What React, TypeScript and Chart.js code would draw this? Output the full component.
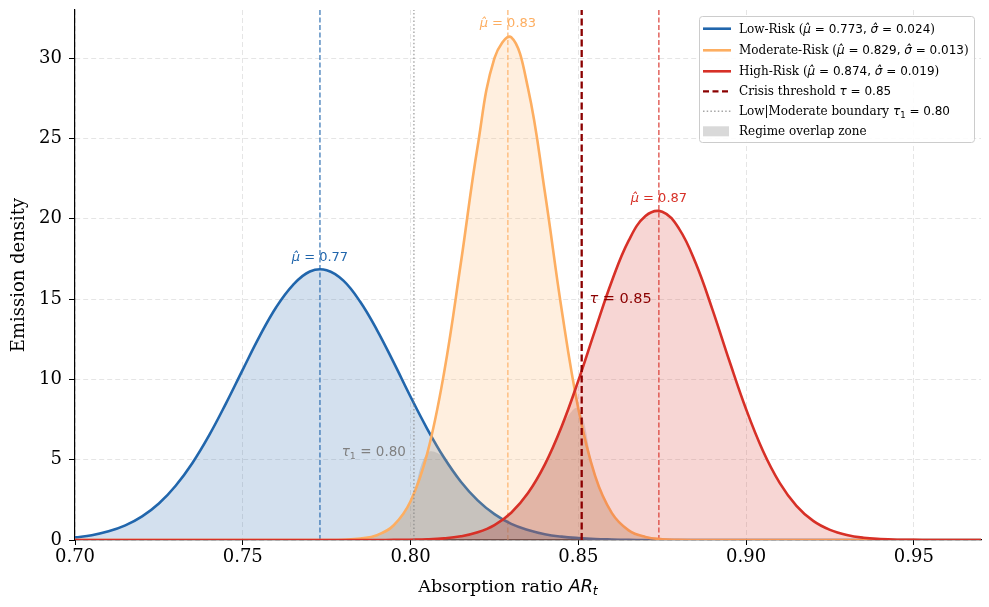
import React, { useEffect, useRef } from "react";
import { Chart, registerables } from "chart.js";

Chart.register(...registerables);

// ---- Data ----
const AR_GRID = [
  0.700, 0.705, 0.710, 0.715, 0.720, 0.725, 0.730, 0.735, 0.740, 0.745,
  0.750, 0.755, 0.760, 0.765, 0.770, 0.775, 0.780, 0.785, 0.790, 0.795,
  0.800, 0.805, 0.810, 0.815, 0.820, 0.825, 0.830, 0.835, 0.840, 0.845,
  0.850, 0.855, 0.860, 0.865, 0.870, 0.875, 0.880, 0.885, 0.890, 0.895,
  0.900, 0.905, 0.910, 0.915, 0.920, 0.925, 0.930, 0.935, 0.940, 0.945,
  0.950, 0.955, 0.960, 0.965, 0.970,
];

const LOW_RISK = [
  0.16, 0.30, 0.54, 0.91, 1.47, 2.27, 3.38, 4.80, 6.53, 8.51,
  10.61, 12.68, 14.51, 15.89, 16.72, 16.80, 16.15, 14.83, 13.07, 11.04,
  8.92, 6.91, 5.12, 3.63, 2.47, 1.61, 1.00, 0.62, 0.36, 0.21,
  0.12, 0.06, 0.03, 0.01, 0, 0, 0, 0, 0, 0,
  0, 0, 0, 0, 0, 0, 0, 0, 0, 0,
  0, 0, 0, 0, 0,
];

const MODERATE_RISK = [
  0, 0, 0, 0, 0, 0, 0, 0, 0, 0,
  0, 0, 0, 0, 0, 0, 0.02, 0.09, 0.30, 0.92,
  2.41, 5.41, 10.43, 17.26, 24.52, 30.00, 31.30, 28.13, 21.70, 14.38,
  8.17, 3.99, 1.67, 0.60, 0.19, 0.05, 0.01, 0, 0, 0,
  0, 0, 0, 0, 0, 0, 0, 0, 0, 0,
  0, 0, 0, 0, 0,
];

const HIGH_RISK = [
  0, 0, 0, 0, 0, 0, 0, 0, 0, 0,
  0, 0, 0, 0, 0, 0, 0, 0, 0, 0.01,
  0.02, 0.04, 0.10, 0.23, 0.48, 0.93, 1.70, 2.92, 4.69, 7.05,
  9.92, 13.07, 16.13, 18.64, 20.17, 20.44, 19.39, 17.23, 14.33, 11.16,
  8.14, 5.56, 3.56, 2.13, 1.19, 0.63, 0.31, 0.14, 0.06, 0.02,
  0.01, 0, 0, 0, 0,
];

const REGIME_NAMES = ["Low-Risk", "Moderate-Risk", "High-Risk"];
const REGIME_MU = [0.773, 0.829, 0.874];
const REGIME_MU_TEXT = ["0.773", "0.829", "0.874"];
const REGIME_SIGMA_TEXT = ["0.024", "0.013", "0.019"];
const REGIME_MU_SHORT = ["0.77", "0.83", "0.87"];
const CRISIS_THRESHOLD = 0.851;
const LOW_MOD_BOUNDARY = 0.801;
const X_TICKS = [0.7, 0.75, 0.8, 0.85, 0.9, 0.95];
const Y_TICKS = [0, 5, 10, 15, 20, 25, 30];

// ---- Styles ----
const BLUE = "#2166ac";
const ORANGE = "#fdae61";
const RED = "#d73027";
const DARKRED = "#8b0000";
const COLORS = [BLUE, ORANGE, RED];
const FILLS = ["rgba(33,102,172,0.2)", "rgba(253,174,97,0.2)", "rgba(215,48,39,0.2)"];
const MU_LINES = ["rgba(33,102,172,0.8)", "rgba(253,174,97,0.8)", "rgba(215,48,39,0.8)"];
const OVERLAP_FILL = "rgba(128,128,128,0.25)";
const SERIF = "'DejaVu Serif'";
const SANS = "'DejaVu Sans'";

type Seg = { t: string; f: string; dy?: number };

function drawSegs(
  ctx: CanvasRenderingContext2D,
  segs: Seg[],
  x: number,
  y: number,
  align: "left" | "center" | "right",
  color: string
) {
  ctx.save();
  ctx.fillStyle = color;
  ctx.textBaseline = "alphabetic";
  ctx.textAlign = "left";
  let total = 0;
  const widths = segs.map((s) => {
    ctx.font = s.f;
    const w = ctx.measureText(s.t).width;
    total += w;
    return w;
  });
  let cx = align === "left" ? x : align === "center" ? x - total / 2 : x - total;
  segs.forEach((s, i) => {
    ctx.font = s.f;
    ctx.fillText(s.t, cx, y + (s.dy || 0));
    cx += widths[i];
  });
  ctx.restore();
}

const pts = (ys: number[]) => AR_GRID.map((x, i) => ({ x, y: ys[i] }));

const underlayPlugin = {
  id: "underlay",
  beforeDatasetsDraw(chart: any) {
    const { ctx, chartArea, scales } = chart;
    REGIME_MU.forEach((mu, i) => {
      const px = scales.x.getPixelForValue(mu);
      ctx.save();
      ctx.strokeStyle = MU_LINES[i];
      ctx.lineWidth = 1.4;
      ctx.setLineDash([5, 2.5]);
      ctx.beginPath();
      ctx.moveTo(px, chartArea.bottom);
      ctx.lineTo(px, chartArea.top);
      ctx.stroke();
      ctx.restore();
    });
  },
};

const overlayPlugin = {
  id: "overlay",
  afterDatasetsDraw(chart: any) {
    const { ctx, chartArea, scales } = chart;
    const xs = scales.x;
    const ys = scales.y;
    let px = xs.getPixelForValue(LOW_MOD_BOUNDARY);
    ctx.save();
    ctx.strokeStyle = "rgba(128,128,128,0.7)";
    ctx.lineWidth = 1.4;
    ctx.setLineDash([1.5, 2.2]);
    ctx.beginPath();
    ctx.moveTo(px, chartArea.bottom);
    ctx.lineTo(px, chartArea.top);
    ctx.stroke();
    ctx.restore();
    px = xs.getPixelForValue(CRISIS_THRESHOLD);
    ctx.save();
    ctx.strokeStyle = DARKRED;
    ctx.lineWidth = 2.3;
    ctx.setLineDash([7, 3.5]);
    ctx.beginPath();
    ctx.moveTo(px, chartArea.bottom);
    ctx.lineTo(px, chartArea.top);
    ctx.stroke();
    ctx.restore();

    const muLabelY = [17.4, 31.97, 21.06];
    REGIME_MU.forEach((mu, i) => {
      drawSegs(
        ctx,
        [
          { t: "\u03bc\u0302", f: `italic 13px ${SANS}` },
          { t: " = " + REGIME_MU_SHORT[i], f: `13px ${SANS}` },
        ],
        xs.getPixelForValue(mu),
        ys.getPixelForValue(muLabelY[i]),
        "center",
        COLORS[i]
      );
    });
    drawSegs(
      ctx,
      [
        { t: "\u03c4", f: `italic 14.5px ${SANS}` },
        { t: " = 0.85", f: `14.5px ${SANS}` },
      ],
      xs.getPixelForValue(CRISIS_THRESHOLD + 0.0023),
      ys.getPixelForValue(14.76),
      "left",
      DARKRED
    );
    drawSegs(
      ctx,
      [
        { t: "\u03c4", f: `italic 13.5px ${SANS}` },
        { t: "1", f: `9.5px ${SANS}`, dy: 3 },
        { t: " = 0.80", f: `13.5px ${SANS}` },
      ],
      xs.getPixelForValue(LOW_MOD_BOUNDARY - 0.0024),
      ys.getPixelForValue(5.23),
      "right",
      "#808080"
    );
  },
  afterDraw(chart: any) {
    const { ctx, chartArea } = chart;
    ctx.save();
    ctx.translate(19, 275);
    ctx.rotate(-Math.PI / 2);
    ctx.font = `18px ${SERIF}`;
    ctx.fillStyle = "#000";
    ctx.textAlign = "center";
    ctx.textBaseline = "middle";
    ctx.fillText("Emission density", 0, 0);
    ctx.restore();
    drawSegs(
      ctx,
      [
        { t: "Absorption ratio ", f: `17.5px ${SERIF}` },
        { t: "AR", f: `italic 17.5px ${SANS}` },
        { t: "t", f: `italic 12.5px ${SANS}`, dy: 3 },
      ],
      508,
      592,
      "center",
      "#000"
    );

    // legend
    const bx = chartArea.right - 282;
    const by = chartArea.top + 6;
    const bw = 275;
    const bh = 126;
    ctx.save();
    ctx.fillStyle = "rgba(255,255,255,0.85)";
    ctx.strokeStyle = "#cccccc";
    ctx.lineWidth = 1;
    ctx.beginPath();
    ctx.roundRect(bx + 0.5, by + 0.5, bw, bh, 3);
    ctx.fill();
    ctx.stroke();
    ctx.restore();

    const rowY = [12.7, 34.3, 55.3, 75.3, 95.3, 115.3];
    const hx1 = bx + 4;
    const hx2 = bx + 32;
    const tx = bx + 40;
    const fs = 12;
    const drawHandle = (y: number, color: string, w: number, dash: number[]) => {
      ctx.save();
      ctx.strokeStyle = color;
      ctx.lineWidth = w;
      ctx.setLineDash(dash);
      ctx.beginPath();
      ctx.moveTo(hx1, y);
      ctx.lineTo(hx2, y);
      ctx.stroke();
      ctx.restore();
    };
    for (let i = 0; i < 3; i++) {
      const y = by + rowY[i];
      drawHandle(y, COLORS[i], 2.6, []);
      drawSegs(
        ctx,
        [
          { t: REGIME_NAMES[i] + " (", f: `${fs}px ${SERIF}` },
          { t: "\u03bc\u0302", f: `italic ${fs}px ${SANS}` },
          { t: " = " + REGIME_MU_TEXT[i] + ", ", f: `${fs}px ${SANS}` },
          { t: "\u03c3\u0302", f: `italic ${fs}px ${SANS}` },
          { t: " = " + REGIME_SIGMA_TEXT[i], f: `${fs}px ${SANS}` },
          { t: ")", f: `${fs}px ${SERIF}` },
        ],
        tx,
        y + 4,
        "left",
        "#000"
      );
    }
    drawHandle(by + rowY[3], DARKRED, 2.2, [6, 3.5]);
    drawSegs(
      ctx,
      [
        { t: "Crisis threshold ", f: `${fs}px ${SERIF}` },
        { t: "\u03c4", f: `italic ${fs}px ${SANS}` },
        { t: " = 0.85", f: `${fs}px ${SANS}` },
      ],
      tx,
      by + rowY[3] + 4,
      "left",
      "#000"
    );
    drawHandle(by + rowY[4], "rgba(128,128,128,0.7)", 1.4, [1.5, 2.2]);
    drawSegs(
      ctx,
      [
        { t: "Low|Moderate boundary ", f: `${fs}px ${SERIF}` },
        { t: "\u03c4", f: `italic ${fs}px ${SANS}` },
        { t: "1", f: `8.5px ${SANS}`, dy: 2.5 },
        { t: " = 0.80", f: `${fs}px ${SANS}` },
      ],
      tx,
      by + rowY[4] + 4,
      "left",
      "#000"
    );
    ctx.save();
    ctx.fillStyle = "rgba(128,128,128,0.3)";
    ctx.fillRect(hx1, by + rowY[5] - 5, hx2 - hx1 - 2, 10);
    ctx.restore();
    drawSegs(
      ctx,
      [{ t: "Regime overlap zone", f: `${fs}px ${SERIF}` }],
      tx,
      by + rowY[5] + 4,
      "left",
      "#000"
    );
  },
};

export default function App() {
  const canvasRef = useRef<HTMLCanvasElement | null>(null);

  useEffect(() => {
    const canvas = canvasRef.current;
    if (!canvas) return;
    const lowMod = LOW_RISK.map((v, i) => Math.min(v, MODERATE_RISK[i]));
    const modHigh = MODERATE_RISK.map((v, i) => Math.min(v, HIGH_RISK[i]));
    const common = {
      pointRadius: 0,
      tension: 0.4,
      fill: "origin" as const,
    };
    const chart = new Chart(canvas, {
      type: "line",
      data: {
        datasets: [
          { ...common, label: REGIME_NAMES[2], data: pts(HIGH_RISK), borderColor: RED, backgroundColor: FILLS[2], borderWidth: 2.6, order: 1 },
          { ...common, label: REGIME_NAMES[1], data: pts(MODERATE_RISK), borderColor: ORANGE, backgroundColor: FILLS[1], borderWidth: 2.6, order: 2 },
          { ...common, label: REGIME_NAMES[0], data: pts(LOW_RISK), borderColor: BLUE, backgroundColor: FILLS[0], borderWidth: 2.6, order: 3 },
          { ...common, label: "overlap-lm", data: pts(lowMod), borderColor: "rgba(0,0,0,0)", backgroundColor: OVERLAP_FILL, borderWidth: 0, order: 4 },
          { ...common, label: "overlap-mh", data: pts(modHigh), borderColor: "rgba(0,0,0,0)", backgroundColor: OVERLAP_FILL, borderWidth: 0, order: 5 },
        ],
      },
      options: {
        animation: false,
        responsive: false,
        devicePixelRatio: 1,
        layout: { padding: { top: 10, right: 8, left: 0, bottom: 0 } },
        plugins: { legend: { display: false }, tooltip: { enabled: false } },
        scales: {
          x: {
            type: "linear",
            min: 0.7,
            max: 0.97,
            afterBuildTicks: (s: any) => {
              s.ticks = X_TICKS.map((v) => ({ value: v }));
            },
            afterFit: (s: any) => {
              s.height = 67;
              s.paddingLeft = 0;
              s.paddingRight = 0;
            },
            ticks: {
              callback: (v: any) => Number(v).toFixed(2),
              font: { family: "DejaVu Serif", size: 18 },
              color: "#000",
              padding: 2,
              maxRotation: 0,
              autoSkip: false,
            },
            grid: { color: "rgba(0,0,0,0.1)", lineWidth: 1, tickColor: "#000", tickLength: 5, tickBorderDash: [] },
            border: { display: true, color: "#000", width: 1.2, dash: [5, 3] },
          },
          y: {
            type: "linear",
            min: 0,
            max: 33,
            afterBuildTicks: (s: any) => {
              s.ticks = Y_TICKS.map((v) => ({ value: v }));
            },
            afterFit: (s: any) => {
              s.width = 75;
              s.paddingTop = 0;
              s.paddingBottom = 0;
            },
            ticks: {
              font: { family: "DejaVu Serif", size: 18 },
              color: "#000",
              padding: 7,
              autoSkip: false,
            },
            grid: { color: "rgba(0,0,0,0.1)", lineWidth: 1, tickColor: "#000", tickLength: 6, tickBorderDash: [] },
            border: { display: true, color: "#000", width: 1.2, dash: [5, 3] },
          },
        },
      },
      plugins: [underlayPlugin, overlayPlugin],
    } as any);
    return () => chart.destroy();
  }, []);

  return (
    <div style={{ position: "fixed", left: 0, top: 0, width: 989, height: 607, background: "#fff" }}>
      <canvas ref={canvasRef} width={989} height={607} style={{ display: "block", width: 989, height: 607 }} />
    </div>
  );
}
